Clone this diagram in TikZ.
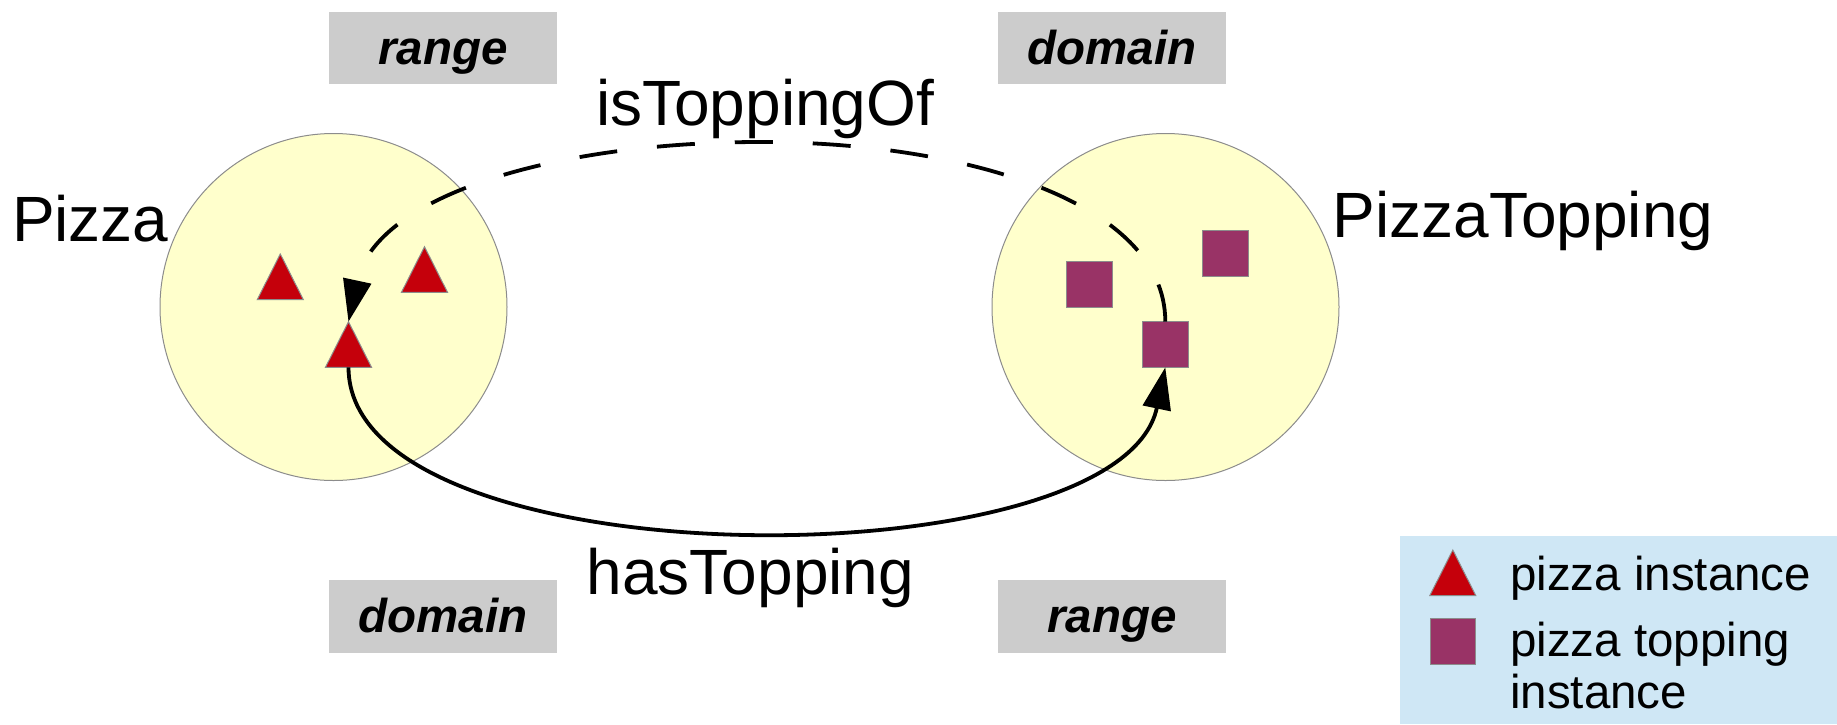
\documentclass[tikz,border=0pt]{standalone}
\usepackage{fontspec}
\setmainfont{Liberation Sans}
\usetikzlibrary{shapes.geometric,arrows.meta}
\definecolor{circfill}{HTML}{FFFFCC}
\definecolor{circline}{HTML}{8C8C8C}
\definecolor{trired}{HTML}{C5000B}
\definecolor{shapeline}{HTML}{8C8C8C}
\definecolor{sqpurple}{HTML}{993366}
\definecolor{taggray}{HTML}{CCCCCC}
\definecolor{legendblue}{HTML}{CFE7F5}
\tikzset{
  setcircle/.style={circle, minimum size=347pt, inner sep=0pt, fill=circfill, draw=circline, line width=1pt},
  pizzatri/.style={isosceles triangle, isosceles triangle stretches, shape border rotate=90,
    minimum width=46pt, minimum height=45.6pt, inner sep=0pt, outer sep=0pt,
    fill=trired, draw=shapeline, line width=1pt, anchor=apex},
  toppingsq/.style={rectangle, minimum size=45.6pt, inner sep=0pt, outer sep=0pt,
    fill=sqpurple, draw=shapeline, line width=1pt},
  tagbox/.style={rectangle, fill=taggray, minimum width=227.4pt, minimum height=72.7pt,
    inner xsep=0pt, inner ysep=0pt, text height=52.5pt, text depth=20.2pt,
    font=\fontsize{47.5pt}{57pt}\selectfont\bfseries\itshape},
  biglabel/.style={inner sep=0pt, anchor=base, font=\fontsize{64pt}{76pt}\selectfont},
  legendtext/.style={inner sep=0pt, anchor=base west, align=left, font=\fontsize{47.5pt}{51.6pt}\selectfont},
  conn/.style={line width=3.8pt, -{Triangle[length=42pt,width=28pt]}},
  dashconn/.style={conn, dash pattern=on 38pt off 40pt},
}
\begin{document}
\begin{tikzpicture}[x=1pt,y=-1pt]
\useasboundingbox (0,0) rectangle (1837,724);

% sets
\node[setcircle] (pizzaset) at (333.5,307) {};
\node[setcircle] (toppingset) at (1165.5,307) {};

% instances
\node[pizzatri] (t1) at (280.3,254) {};
\node[pizzatri] (t2) at (424.5,246.7) {};
\node[pizzatri] (t3) at (348.5,321.7) {};
\node[toppingsq] (sA) at (1089.5,284.2) {};
\node[toppingsq] (sB) at (1225.5,253.7) {};
\node[toppingsq] (sC) at (1165.3,344.5) {};

% set labels
\node[biglabel] (pizzalabel) at (90.3,241) {Pizza};
\node[biglabel] (toppinglabel) at (1523,237.3) {PizzaTopping};

% property labels
\node[biglabel] (istoppingof) at (765,125.7) {isToppingOf};
\node[biglabel] (hastopping) at (750.3,594) {hasTopping};

% domain / range tags
\node[tagbox] (rangeTL) at (443,48) {range};
\node[tagbox] (domainTR) at (1112,48) {domain};
\node[tagbox] (domainBL) at (443,616.3) {domain};
\node[tagbox] (rangeBR) at (1112,616.3) {range};

% connectors
\coordinate (arctop) at (760,142);
\draw[dashconn] (sC.north) .. controls (1165.3,200) and (960,142) .. (arctop)
  .. controls (560,142) and (375.8,194) .. (t3.apex);
\draw[conn] (t3.lower side) .. controls (348.5,584) and (1120,584) .. (sC.south);

% legend
\node[rectangle, fill=legendblue, inner sep=0pt, minimum width=437.7pt, minimum height=188.3pt, anchor=north west] (legend) at (1399.3,535.7) {};
\node[pizzatri] (legtri) at (1452.8,550) {};
\node[toppingsq] (legsq) at (1452.8,641.7) {};
\node[legendtext] (legtext1) at (1510,590) {pizza instance};
\node[legendtext] (legtext2) at (1510,708.3) {pizza topping\\instance};
\end{tikzpicture}
\end{document}
